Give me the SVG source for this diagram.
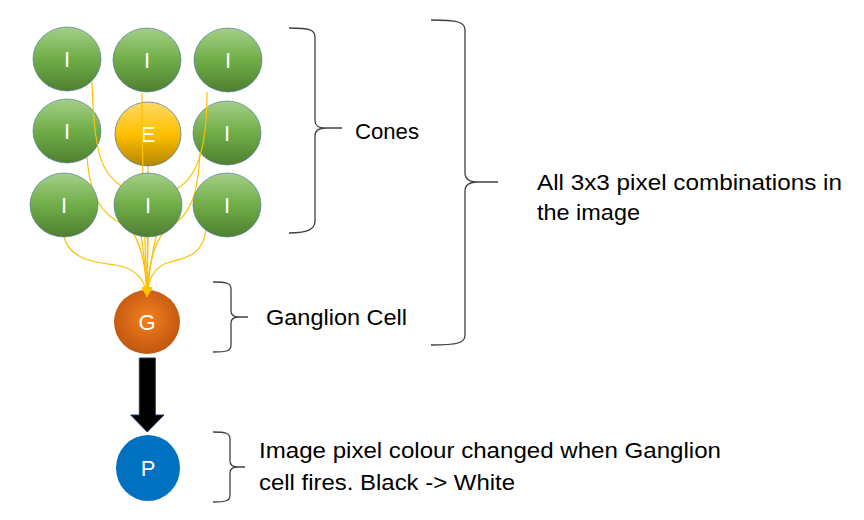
<svg xmlns="http://www.w3.org/2000/svg" width="864" height="520" viewBox="0 0 864 520">
<defs>
<linearGradient id="gGreen" x1="0" y1="0" x2="0" y2="1">
<stop offset="0" stop-color="#a4cf88"/>
<stop offset="0.5" stop-color="#70ad47"/>
<stop offset="1" stop-color="#4f7f31"/>
</linearGradient>
<linearGradient id="gYellow" x1="0" y1="0" x2="0" y2="1">
<stop offset="0" stop-color="#ffd966"/>
<stop offset="0.5" stop-color="#ffc000"/>
<stop offset="1" stop-color="#b38600"/>
</linearGradient>
<radialGradient id="gOrange" cx="0.5" cy="0.45" r="0.55">
<stop offset="0" stop-color="#f4801f"/>
<stop offset="1" stop-color="#c0560f"/>
</radialGradient>
<marker id="arr" viewBox="0 0 10 10" refX="9" refY="5" markerWidth="10" markerHeight="10" orient="auto" markerUnits="userSpaceOnUse">
<path d="M0,0 L10,5 L0,10 z" fill="#ffc000"/>
</marker>
<style>
.cone{fill:url(#gGreen);stroke:#41719c;stroke-opacity:0.6;stroke-width:1}
.lbl{fill:#ffffff;font-family:"Liberation Sans",Arial,sans-serif;font-size:22px;text-anchor:middle}
.conn{fill:none;stroke:#ffc000;stroke-width:1.2}
.brace{fill:none;stroke:#404040;stroke-width:1.3}
.txt{fill:#000000;font-family:"Liberation Sans",Arial,sans-serif;font-size:22px}
</style>
</defs>
<rect width="864" height="520" fill="#ffffff"/>

<g id="c11"><ellipse class="cone" cx="67" cy="59" rx="34" ry="32"/><text class="lbl" x="67" y="67">I</text></g>
<g id="c12"><ellipse class="cone" cx="147" cy="60" rx="34" ry="32"/><text class="lbl" x="147" y="68">I</text></g>
<g id="c13"><ellipse class="cone" cx="228" cy="60" rx="34" ry="32"/><text class="lbl" x="228" y="68">I</text></g>
<g id="c21"><ellipse class="cone" cx="67" cy="131" rx="34" ry="32"/><text class="lbl" x="67" y="139">I</text></g>
<g id="c22"><ellipse cx="148" cy="134" rx="33" ry="32" fill="url(#gYellow)" stroke="#41719c" stroke-opacity="0.7" stroke-width="1"/><text class="lbl" x="148" y="142">E</text></g>
<g id="c23"><ellipse class="cone" cx="227" cy="133" rx="34" ry="32"/><text class="lbl" x="227" y="141">I</text></g>

<g id="ganglion"><ellipse cx="147" cy="322" rx="33" ry="32" fill="url(#gOrange)"/><text class="lbl" x="147" y="330">G</text></g>

<g id="connectors">
<path class="conn" d="M92,82 C94,150 100,175 125,188 C140,200 145,260 147,296" marker-end="url(#arr)"/>
<path class="conn" d="M142,93 C142,200 146,260 147,296" marker-end="url(#arr)"/>
<path class="conn" d="M207,92 C207,140 200,175 178,188 C160,200 150,260 147,296" marker-end="url(#arr)"/>
<path class="conn" d="M87,157 C90,195 100,215 125,225 C140,235 146,265 147,296" marker-end="url(#arr)"/>
<path class="conn" d="M200,153 C198,195 190,215 172,225 C155,235 148,265 147,296" marker-end="url(#arr)"/>
<path class="conn" d="M148,167 C148,220 147,260 147,296" marker-end="url(#arr)"/>
<path class="conn" d="M64,237 C70,260 95,262 115,265 C135,268 145,278 147,296" marker-end="url(#arr)"/>
<path class="conn" d="M206,227 C205,255 185,258 170,262 C155,266 148,278 147,296" marker-end="url(#arr)"/>
<path class="conn" d="M148,238 L147,296" marker-end="url(#arr)"/>
</g>

<g id="c31"><ellipse class="cone" cx="64" cy="205" rx="34" ry="32"/><text class="lbl" x="64" y="213">I</text></g>
<g id="c32"><ellipse class="cone" cx="148" cy="205" rx="34" ry="32"/><text class="lbl" x="148" y="213">I</text></g>
<g id="c33"><ellipse class="cone" cx="227" cy="205" rx="34" ry="32"/><text class="lbl" x="227" y="213">I</text></g>

<g id="fire-arrow"><path d="M139.3,358 L155.3,358 L155.3,415 L164,415 L147.3,432 L130.7,415 L139.3,415 Z" fill="#000000" stroke="#1f3864" stroke-width="1"/></g>

<g id="pixel"><ellipse cx="148" cy="468" rx="32" ry="33" fill="#0070c0"/><text class="lbl" x="148" y="476">P</text></g>

<g id="brace-cones">
<path class="brace" d="M289,28 C310,28 315,30 315,37 L315,121 C315,126 318,128 326,128 L342,128 M326,128 C318,128 315,131 315,136 L315,221 C315,228 310,233 289,233"/>
<text class="txt" x="355" y="139" textLength="64" lengthAdjust="spacingAndGlyphs">Cones</text>
</g>
<g id="brace-all">
<path class="brace" d="M431,20 C458,20 465,22 465,30 L465,173 C465,179 469,182 478,182 L498,182 M478,182 C469,182 465,185 465,191 L465,335 C465,343 458,345 431,345"/>
<text class="txt" x="537" y="190" textLength="305" lengthAdjust="spacingAndGlyphs">All 3x3 pixel combinations in</text>
<text class="txt" x="537" y="220" textLength="103" lengthAdjust="spacingAndGlyphs">the image</text>
</g>
<g id="brace-ganglion">
<path class="brace" d="M213,282 C227,282 231,283 231,289 L231,311 C231,315 234,317 239,317 L248,317 M239,317 C234,317 231,319 231,323 L231,345 C231,351 227,352 213,352"/>
<text class="txt" x="266" y="325" textLength="141" lengthAdjust="spacingAndGlyphs">Ganglion Cell</text>
</g>
<g id="brace-pixel">
<path class="brace" d="M213,432 C226,432 230,433 230,439 L230,461 C230,465 233,467 238,467 L245,467 M238,467 C233,467 230,469 230,473 L230,495 C230,501 226,502 213,502"/>
<text class="txt" x="259" y="458" textLength="462" lengthAdjust="spacingAndGlyphs">Image pixel colour changed when Ganglion</text>
<text class="txt" x="259" y="490" textLength="256" lengthAdjust="spacingAndGlyphs">cell fires. Black -&gt; White</text>
</g>
</svg>
